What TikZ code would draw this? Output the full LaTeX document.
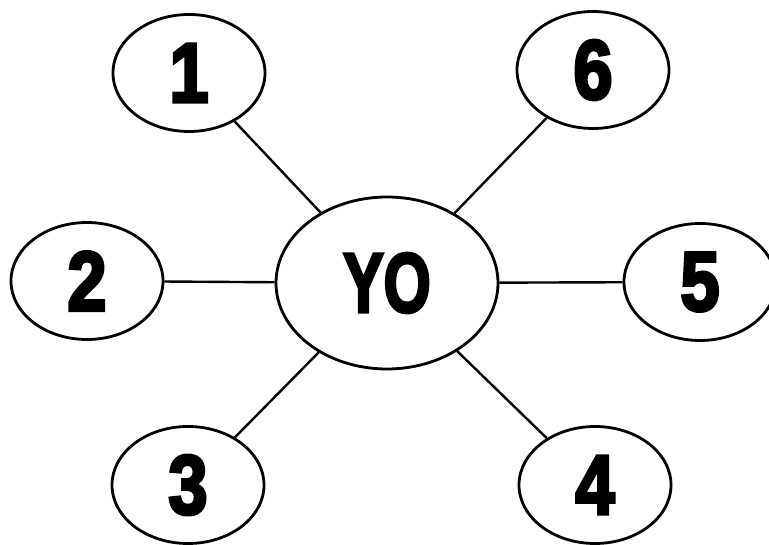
\documentclass[tikz,border=0pt]{standalone}
\usepackage{fontspec}
\usepackage{graphicx}
\usetikzlibrary{shapes.geometric}
\newfontfamily\heavyfont{Liberation Sans Bold}[FakeBold=4]
\newcommand{\digitlabel}[1]{\scalebox{0.84}[1]{\heavyfont\fontsize{84}{84}\selectfont #1}}
\newcommand{\centerlabel}[1]{\scalebox{0.72}[1]{\heavyfont\fontsize{84}{84}\selectfont #1}}
\tikzset{
  numnode/.style={ellipse, draw=black, line width=2.8pt, fill=white, inner sep=0pt,
    minimum width=152pt, minimum height=117pt},
  centernode/.style={ellipse, draw=black, line width=2.8pt, fill=white, inner sep=0pt,
    minimum width=222pt, minimum height=172pt},
  link/.style={draw=black, line width=2.4pt}
}
\begin{document}
\begin{tikzpicture}[x=1pt,y=-1pt]
\useasboundingbox (0,0) rectangle (769,545);
\clip (0,0) rectangle (769,545);
\node[centernode] (yo) at (387,283) {\centerlabel{YO}};
\node[numnode] (n1) at (189,73) {\digitlabel{1}};
\node[numnode] (n6) at (593,70) {\digitlabel{6}};
\node[numnode] (n2) at (87,281) {\digitlabel{2}};
\node[numnode] (n5) at (700,282) {\digitlabel{5}};
\node[numnode] (n3) at (188,485) {\digitlabel{3}};
\node[numnode] (n4) at (595,485) {\digitlabel{4}};
\draw[link] (yo) -- (n1);
\draw[link] (yo) -- (n6);
\draw[link] (yo) -- (n2);
\draw[link] (yo) -- (n5);
\draw[link] (yo) -- (n3);
\draw[link] (yo) -- (n4);
\end{tikzpicture}
\end{document}
